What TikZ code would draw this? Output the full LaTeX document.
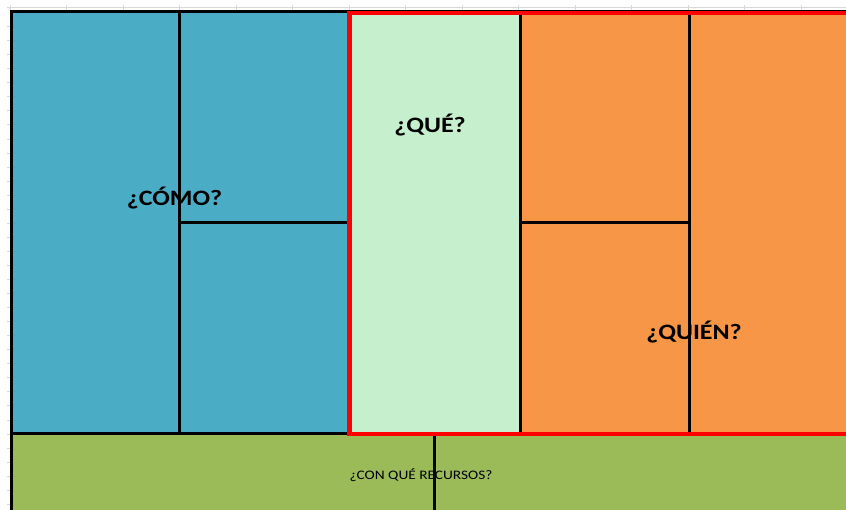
\documentclass[tikz,border=0pt]{standalone}
\usepackage{fontspec}
\setmainfont{Carlito}
\definecolor{cellblue}{RGB}{75,172,198}
\definecolor{cellmint}{RGB}{198,239,206}
\definecolor{cellorange}{RGB}{247,150,70}
\definecolor{cellgreen}{RGB}{155,187,89}
\definecolor{gridgray}{RGB}{216,216,216}

\begin{document}
\begin{tikzpicture}[
            x=1pt, y=-1pt,
            gridline/.style={gridgray, line width=0.8pt},
            divider/.style={black, line width=3pt},
            frame/.style={red, line width=4.5pt},
            biglabel/.style={font=\fontsize{22}{24}\selectfont\bfseries, inner sep=0pt, anchor=base, xscale=1.18},
            smalllabel/.style={font=\fontsize{13}{15}\selectfont, inner sep=0pt, anchor=base, xscale=1.18}
        ]
            \useasboundingbox (0,0) rectangle (846,510);
            \fill[white] (0,0) rectangle (846,510);

            % Spreadsheet grid
            \draw[gridline] (7,7) -- (846,7);
            \foreach \c in {0,...,14}
                \draw[gridline] (10+56.5*\c,5) -- (10+56.5*\c,510);
            \foreach \r in {1,...,35}
                \draw[gridline] (7,12.5+14.05*\r) -- (846,12.5+14.05*\r);

            % Cells
            \fill[cellblue] (11,12) rectangle (348,433);
            \fill[cellmint] (348,12) rectangle (520,433);
            \fill[cellorange] (520,12) rectangle (846,433);
            \fill[cellgreen] (11,433) rectangle (846,512);

            % Labels
            \node[biglabel] (como) at (174.5,206) {¿CÓMO?};
            \node[biglabel] (que) at (430,133) {¿QUÉ?};
            \node[biglabel] (quien) at (694,340) {¿QUIÉN?};
            \node[smalllabel] (recursos) at (421,479) {¿CON QUÉ RECURSOS?};

            % Dividers
            \draw[divider] (11,12) -- (846,12);
            \draw[divider] (11,10.5) -- (11,512);
            \draw[divider] (179.5,12) -- (179.5,433);
            \draw[divider] (179.5,222.5) -- (348,222.5);
            \draw[divider] (520,12) -- (520,433);
            \draw[divider] (689,12) -- (689,433);
            \draw[divider] (520,222.5) -- (689,222.5);
            \draw[divider] (9.5,433.5) -- (846,433.5);
            \draw[divider] (434,433) -- (434,512);

            % Red frame
            \draw[frame] (850,13) -| (349.5,434) -- (850,434);
        \end{tikzpicture}
\end{document}
